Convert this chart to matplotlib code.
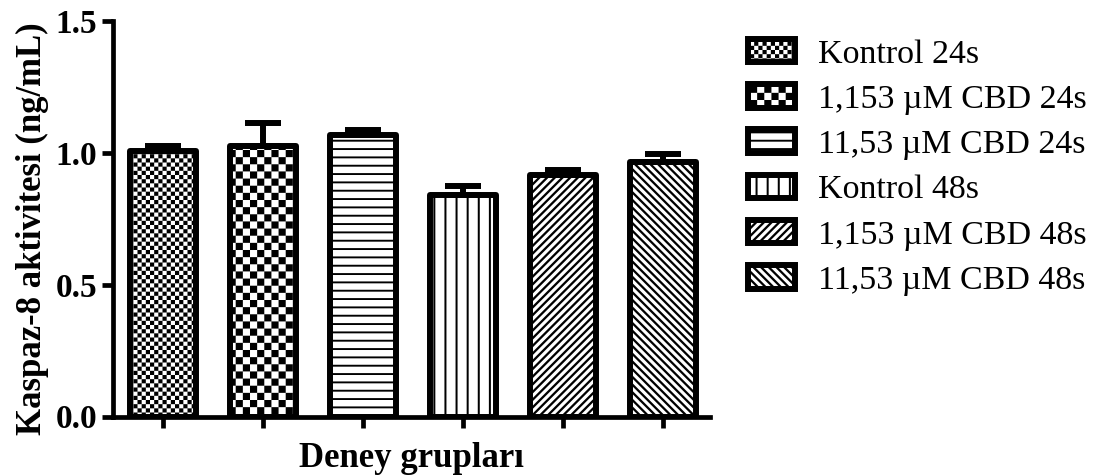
import warnings
warnings.filterwarnings("ignore")
import numpy as np
import matplotlib
matplotlib.use("Agg")
import matplotlib.pyplot as plt
import matplotlib.hatch as mhatch
from matplotlib.path import Path

# ---------------- data ----------------
groups = ["Kontrol 24s", "1,153 µM CBD 24s", "11,53 µM CBD 24s",
          "Kontrol 48s", "1,153 µM CBD 48s", "11,53 µM CBD 48s"]
means = [1.008, 1.025, 1.068, 0.841, 0.917, 0.964]
sem = [0.018, 0.088, 0.019, 0.034, 0.019, 0.030]
yticks = [0.0, 0.5, 1.0, 1.5]
ytick_labels = ["0.0", "0.5", "1.0", "1.5"]
xlabel = "Deney grupları"
ylabel = "Kaspaz-8 aktivitesi (ng/mL)"

# ---------------- custom filled hatch textures ----------------
class _PolyHatch(mhatch.HatchPatternBase):
    char = None

    def __init__(self, hatch, density):
        self.polys = self.make_polys() if (hatch and self.char in hatch) else []
        self.num_vertices = 5 * len(self.polys)

    def set_vertices_and_codes(self, vertices, codes):
        for i, poly in enumerate(self.polys):
            vertices[5 * i:5 * i + 4] = poly
            vertices[5 * i + 4] = poly[0]
            codes[5 * i] = Path.MOVETO
            codes[5 * i + 1:5 * i + 4] = Path.LINETO
            codes[5 * i + 4] = Path.CLOSEPOLY


class _Checker(_PolyHatch):
    n = 24

    def make_polys(self):
        s = 1.0 / self.n
        return [[(i * s, j * s), ((i + 1) * s, j * s),
                 ((i + 1) * s, (j + 1) * s), (i * s, (j + 1) * s)]
                for i in range(self.n) for j in range(self.n) if (i + j) % 2 == 0]


class FineChecker(_Checker):
    char = 'c'
    n = 24


class CoarseChecker(_Checker):
    char = 'k'
    n = 14


class HLines(_PolyHatch):
    char = 'h'
    n = 12
    t = 0.019

    def make_polys(self):
        return [[(-0.05, k / self.n), (1.05, k / self.n),
                 (1.05, k / self.n + self.t), (-0.05, k / self.n + self.t)]
                for k in range(self.n)]


class VLines(_PolyHatch):
    char = 'v'
    n = 9
    t = 0.02

    def make_polys(self):
        return [[(k / self.n, -0.05), (k / self.n + self.t, -0.05),
                 (k / self.n + self.t, 1.05), (k / self.n, 1.05)]
                for k in range(self.n)]


class NEDiag(_PolyHatch):
    char = 'n'
    n = 13
    w = 0.032

    def make_polys(self):
        polys = []
        for k in range(-self.n - 2, self.n + 2):
            c = k / self.n
            polys.append([(-0.1, -0.1 + c), (1.1, 1.1 + c),
                          (1.1 + self.w, 1.1 + c), (-0.1 + self.w, -0.1 + c)])
        return polys


class SEDiag(_PolyHatch):
    char = 's'
    n = 13
    w = 0.032

    def make_polys(self):
        polys = []
        for k in range(-2, 2 * self.n + 3):
            c = k / self.n
            polys.append([(-0.1, c + 0.1), (1.1, c - 1.1),
                          (1.1 + self.w, c - 1.1), (-0.1 + self.w, c + 0.1)])
        return polys


mhatch._hatch_types.extend([FineChecker, CoarseChecker, HLines, VLines, NEDiag, SEDiag])
hatches = ['c', 'k', 'h', 'v', 'n', 's']

# ---------------- figure ----------------
plt.rcParams['hatch.linewidth'] = 0.01
plt.rcParams['font.family'] = ['Liberation Serif', 'DejaVu Serif']

W, H = 1097, 475
fig = plt.figure(figsize=(W / 100, H / 100), dpi=100)
ax = fig.add_axes([113 / W, (H - 416.5) / H, (710 - 113) / W, (416.5 - 20.7) / H])

x = np.arange(len(groups))
lw = 4.3
for i in range(len(groups)):
    ax.bar(x[i], means[i], width=0.66, color='white', edgecolor='black',
           linewidth=lw, hatch=hatches[i], label=groups[i], joinstyle='round',
           zorder=2)

ax.errorbar(x, means, yerr=[np.zeros(len(sem)), sem], fmt='none', ecolor='black',
            elinewidth=lw, capsize=13, capthick=lw, zorder=3)

ax.set_xlim(-0.5, 5.47)
ax.set_ylim(0, 1.5)
for s in ['top', 'right']:
    ax.spines[s].set_visible(False)
for s in ['left', 'bottom']:
    ax.spines[s].set_linewidth(3.4)
    ax.spines[s].set_capstyle('projecting')

ax.set_xticks(x)
ax.set_xticklabels([])
ax.set_yticks(yticks)
ax.set_yticklabels(ytick_labels, fontsize=24, fontweight='bold')
ax.tick_params(axis='both', direction='out', length=8, width=3.4)
ax.tick_params(axis='y', pad=3.2)

ax.set_xlabel(xlabel, fontsize=25, fontweight='bold')
ax.xaxis.set_label_coords(0.5, -0.064)
ax.set_ylabel(ylabel, fontsize=25, fontweight='bold')
ax.yaxis.set_label_coords(-0.107, 0.475)

ax.legend(loc='upper left', bbox_to_anchor=(748 / W, 1 - 39 / H),
          bbox_transform=fig.transFigure, frameon=False,
          prop={'family': 'Liberation Serif', 'size': 24.5},
          handlelength=1.38, handleheight=0.68, handletextpad=0.68,
          labelspacing=0.43, borderpad=0, borderaxespad=0)

fig.savefig("out.png", dpi=100)
